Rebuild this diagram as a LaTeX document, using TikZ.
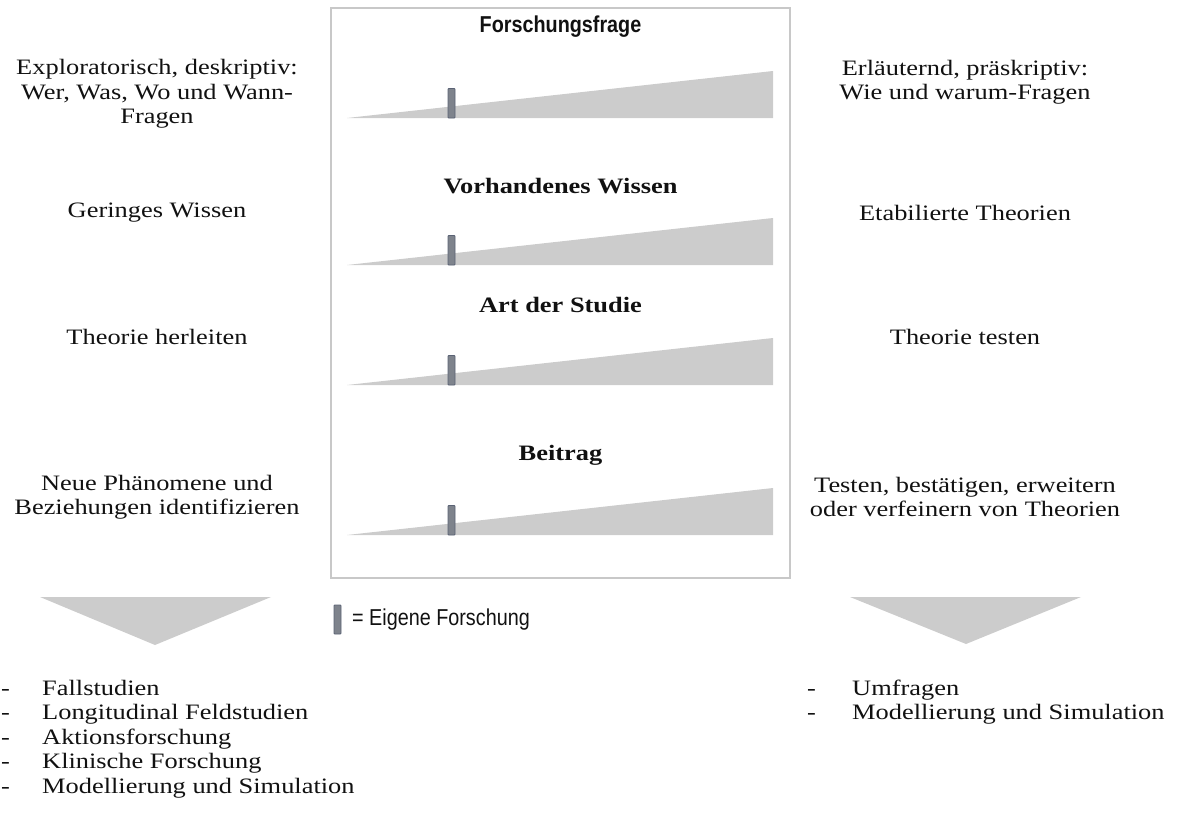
\documentclass[tikz,border=0pt]{standalone}
\usepackage{fontspec}
\setmainfont{Liberation Serif}[FakeStretch=1.2]
\newfontfamily\narrowsans{Liberation Sans}[FakeStretch=0.86]
\definecolor{wedgegray}{HTML}{CCCCCC}
\definecolor{boxgray}{HTML}{C8C8C8}
\definecolor{markfill}{HTML}{7E838C}
\definecolor{markdraw}{HTML}{5A6274}
\definecolor{txt}{HTML}{111111}
\tikzset{
  wedge/.style={fill=wedgegray, draw=none},
  marker/.style={fill=markfill, draw=markdraw, line width=0.8pt, rounded corners=0.8pt},
  frame/.style={draw=boxgray, line width=1.5pt},
  sidetext/.style={font=\fontsize{22}{24.5}\selectfont, align=center, text=txt, inner sep=0pt},
  title/.style={font=\fontsize{22}{25}\selectfont\bfseries, text=txt, inner sep=0pt},
  sanstitle/.style={font=\narrowsans\fontsize{23}{26}\selectfont\bfseries, text=txt, inner sep=0pt},
  listtext/.style={font=\fontsize{22}{24.5}\selectfont, anchor=base west, text=txt, inner sep=0pt},
  legendtext/.style={font=\narrowsans\fontsize{23}{26}\selectfont, anchor=west, text=txt, inner sep=0pt}
}
\begin{document}
\begin{tikzpicture}[x=1pt,y=-1pt]
\useasboundingbox (0,0) rectangle (1180,816);
% central frame
\draw[frame] (331,8) rectangle (790,578);
% titles
\node[sanstitle] (t1) at (560.5,27) {Forschungsfrage};
\node[title] (t2) at (560.5,186) {Vorhandenes Wissen};
\node[title] (t3) at (560.5,305) {Art der Studie};
\node[title] (t4) at (560.5,455) {Beitrag};
% wedges and markers
\foreach \b in {118,265,385,535}{
  \fill[wedge] (347,\b) -- (773,\b) -- (773,\b-47) -- cycle;
  \draw[marker] (448,\b-29.5) rectangle (455,\b);
}
% left texts
\node[sidetext] (l1) at (157,94) {Exploratorisch, deskriptiv:\\Wer, Was, Wo und Wann-\\Fragen};
\node[sidetext] (l2) at (157,213) {Geringes Wissen};
\node[sidetext] (l3) at (157,337) {Theorie herleiten};
\node[sidetext] (l4) at (157,497) {Neue Phänomene und\\Beziehungen identifizieren};
% right texts
\node[sidetext] (r1) at (965,82) {Erläuternd, präskriptiv:\\Wie und warum-Fragen};
\node[sidetext] (r2) at (965,213) {Etabilierte Theorien};
\node[sidetext] (r3) at (965,337) {Theorie testen};
\node[sidetext] (r4) at (965,497) {Testen, bestätigen, erweitern\\oder verfeinern von Theorien};
% down arrows
\fill[wedge] (40,597) -- (271,597) -- (155,645) -- cycle;
\fill[wedge] (850,597) -- (1081,597) -- (966,644) -- cycle;
% legend
\draw[marker] (334,605) rectangle (341,634);
\node[legendtext] (leg) at (352,620) {= Eigene Forschung};
% left list
\foreach \t [count=\i] in {Fallstudien,Longitudinal Feldstudien,Aktionsforschung,Klinische Forschung,Modellierung und Simulation}{
  \node[listtext] (ld\i) at (1,695+24.5*\i-24.5) {-};
  \node[listtext] (lt\i) at (42,695+24.5*\i-24.5) {\t};
}
% right list
\foreach \t [count=\i] in {Umfragen,Modellierung und Simulation}{
  \node[listtext] (rd\i) at (807,695+24.5*\i-24.5) {-};
  \node[listtext] (rt\i) at (852,695+24.5*\i-24.5) {\t};
}
\end{tikzpicture}
\end{document}
